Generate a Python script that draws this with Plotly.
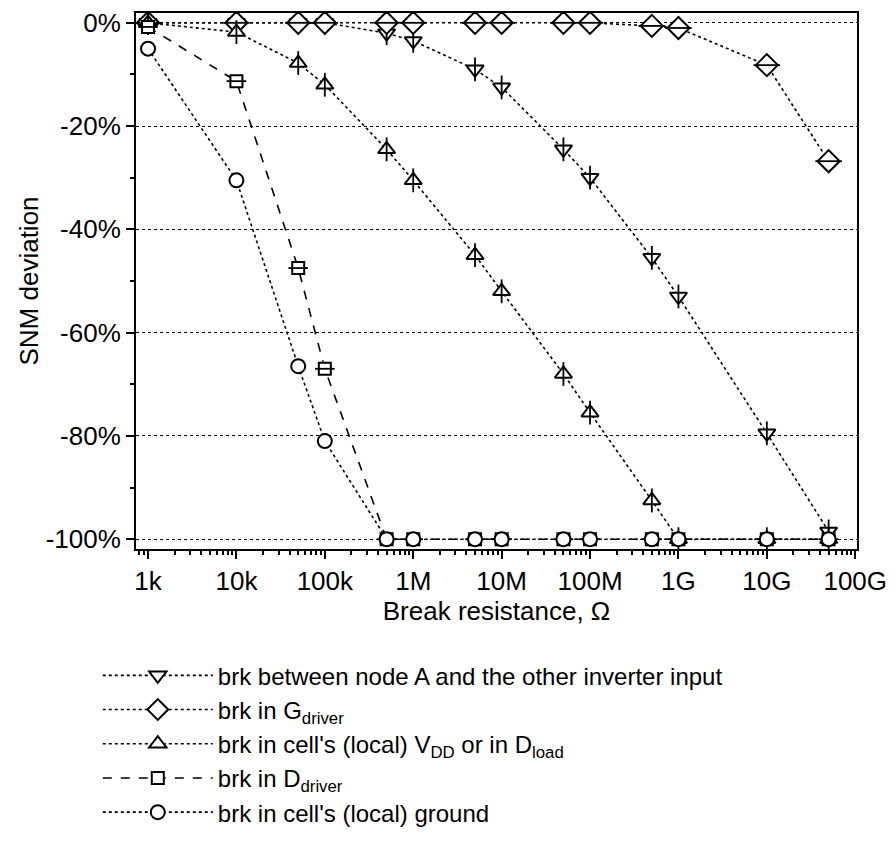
import plotly.graph_objects as go

# break resistance values (ohm)
resistance = [1e3, 1e4, 5e4, 1e5, 5e5, 1e6, 5e6, 1e7, 5e7, 1e8, 5e8, 1e9, 1e10, 5e10]

# SNM deviation in %
node_a = [0, 0, 0, 0, -2, -3.5, -9, -12.5, -24.5, -30, -45.5, -53, -79.5, -98.5]
g_driver = [0, 0, 0, 0, 0, 0, 0, 0, 0, 0, -0.6, -1, -8.2, -26.8]
vdd_load = [0, -1.8, -7.8, -12, -24.5, -30.5, -45, -52, -68, -75.5, -92.5, -100, -100, -100]
d_driver = [-0.8, -11.3, -47.5, -67, -100, -100, -100, -100, -100, -100, -100, -100, -100, -100]
ground = [-5, -30.5, -66.5, -81, -100, -100, -100, -100, -100, -100, -100, -100, -100, -100]

x_tickvals = [1e3, 1e4, 1e5, 1e6, 1e7, 1e8, 1e9, 1e10, 1e11]
x_ticktext = ["1k", "10k", "100k", "1M", "10M", "100M", "1G", "10G", "100G"]
y_tickvals = [0, -20, -40, -60, -80, -100]
y_ticktext = ["0%", "-20%", "-40%", "-60%", "-80%", "-100%"]

FONT = "Arial, Liberation Sans, sans-serif"
FS = 26

series = [
    (node_a, "brk between node A and the other inverter input", "triangle-down", "line-ns", "dot", 15),
    (g_driver, "brk in G<sub>driver</sub>", "diamond", "line-ew", "dot", 17),
    (vdd_load, "brk in cell's (local) V<sub>DD</sub> or in D<sub>load</sub>", "triangle-up", "line-ns", "dot", 15),
    (d_driver, "brk in D<sub>driver</sub>", "square", "line-ew", "dash", 12),
    (ground, "brk in cell's (local) ground", "circle", None, "dot", 14),
]

fig = go.Figure()
for y, name, sym, bar, dash, size in series:
    fig.add_trace(go.Scatter(
        x=resistance, y=y, name=name, mode="lines+markers",
        line=dict(color="black", width=1.6, dash=dash),
        marker=dict(symbol=sym, size=size, color="white",
                    line=dict(color="black", width=2))
    ))
    if bar:
        fig.add_trace(go.Scatter(
            x=resistance, y=y, mode="markers", showlegend=False,
            hoverinfo="skip",
            marker=dict(symbol=bar, size=size + 2,
                        line=dict(color="black", width=1.8))
        ))

minor_x = [m * 10 ** e for e in range(2, 11) for m in range(2, 10)]

fig.update_xaxes(
    type="log", range=[2.864, 11.02], automargin="bottom",
    tickvals=x_tickvals, ticktext=x_ticktext, ticklabeloverflow="allow",
    ticks="outside", ticklen=8, tickwidth=2, tickcolor="black",
    minor=dict(tickvals=minor_x, ticks="outside", ticklen=4, tickwidth=1.5, tickcolor="black"),
    showline=True, linecolor="black", linewidth=2, mirror=True,
    showgrid=False, zeroline=False,
    title=dict(text="Break resistance, Ω", font=dict(size=FS), standoff=6),
)
fig.update_yaxes(
    range=[-101.9, 1.9], automargin="left",
    tickvals=y_tickvals, ticktext=y_ticktext, ticklabeloverflow="allow",
    ticks="outside", ticklen=8, tickwidth=2, tickcolor="black",
    minor=dict(dtick=10, ticks="outside", ticklen=4, tickwidth=1.5, tickcolor="black", showgrid=False),
    showline=True, linecolor="black", linewidth=2, mirror=True,
    showgrid=True, gridcolor="black", gridwidth=1, griddash="dot",
    zeroline=False,
    title=dict(text="SNM deviation", font=dict(size=FS), standoff=0),
)

# the page body adds an 8px offset, so margins are shifted to compensate
fig.update_layout(
    width=896, height=841,
    margin=dict(l=128, r=47, t=5, b=300),
    paper_bgcolor="white", plot_bgcolor="white",
    font=dict(family=FONT, size=FS, color="black"),
    legend=dict(x=-0.053, y=-0.1945, xanchor="left", yanchor="top",
                font=dict(size=24), bgcolor="rgba(0,0,0,0)",
                itemwidth=110, tracegroupgap=0),
)

fig.write_html("out.html")
